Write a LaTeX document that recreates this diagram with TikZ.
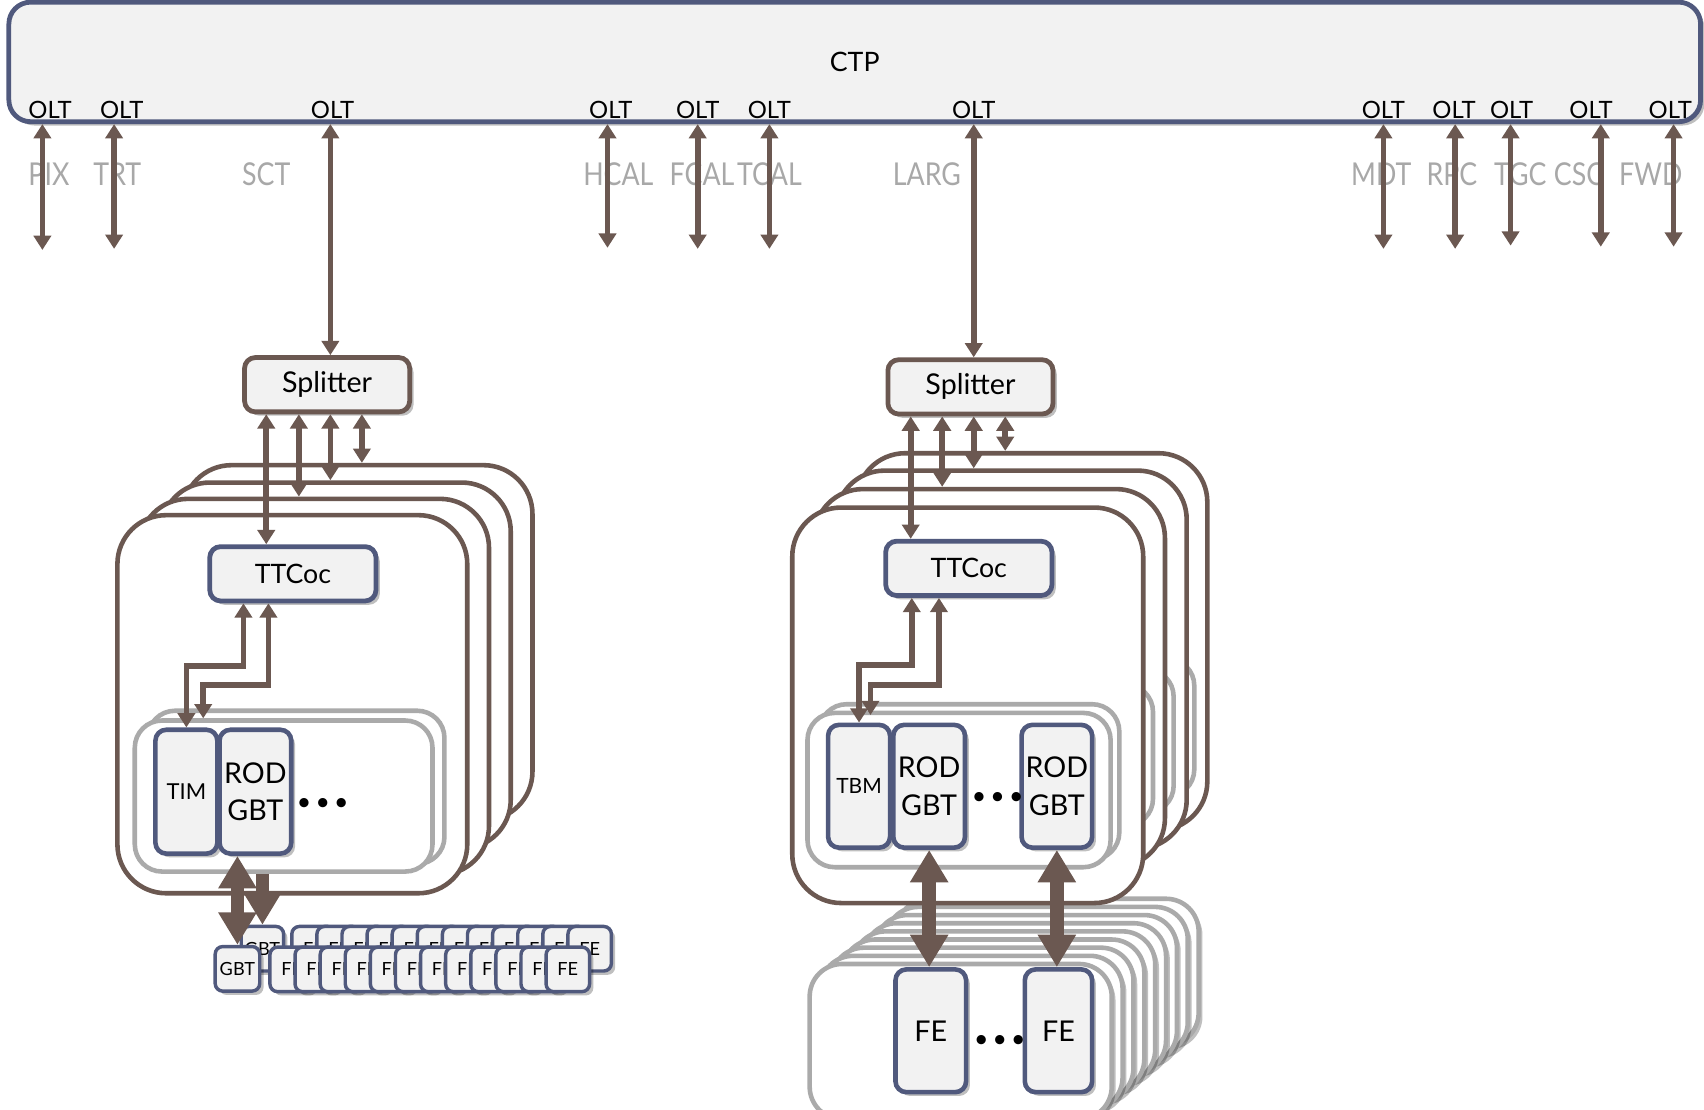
\documentclass[tikz,border=0pt]{standalone}
\usepackage{fontspec}
\setmainfont{Lato}
\newfontfamily\detfont[FakeStretch=0.85]{Lato}
\usepackage{tikz}
\usetikzlibrary{arrows.meta,shadows}
\definecolor{linkbrown}{RGB}{107,88,81}
\definecolor{boxblue}{RGB}{80,89,125}
\definecolor{boxfill}{RGB}{242,242,242}
\definecolor{boardgray}{RGB}{170,170,170}
\definecolor{detgray}{RGB}{168,168,168}

\tikzset{
  softshadow/.style={drop shadow={shadow xshift=2pt,shadow yshift=-2pt,opacity=0.25,fill=black}},
  ctpbox/.style={draw=boxblue,fill=boxfill,line width=2.5pt,rounded corners=0.4cm,
    minimum width=31.14cm,minimum height=2.2cm,inner sep=0pt,softshadow,font=\fontsize{14}{16}\selectfont},
  splitbox/.style={draw=linkbrown,fill=boxfill,line width=2.5pt,rounded corners=0.2cm,
    minimum width=3.04cm,minimum height=1cm,inner sep=0pt,softshadow,font=\fontsize{15}{17}\selectfont},
  ttcbox/.style={splitbox,draw=boxblue,minimum width=3.06cm,font=\fontsize{14}{16}\selectfont},
  modbox/.style={draw=boxblue,fill=boxfill,line width=2.4pt,rounded corners=0.2cm,
    minimum height=2.28cm,inner sep=0pt,softshadow,align=center,font=\fontsize{15}{19.8}\selectfont},
  minibox/.style={draw=boxblue,fill=boxfill,line width=1.8pt,rounded corners=0.14cm,
    minimum width=0.8cm,minimum height=0.82cm,inner sep=0pt,softshadow,font=\fontsize{9.5}{10}\selectfont},
  crate/.style={draw=linkbrown,fill=white,line width=2.4pt,rounded corners=0.9cm,inner sep=0pt,minimum width=6.44cm},
  board/.style={draw=boardgray,fill=white,line width=2.4pt,rounded corners=0.5cm,inner sep=0pt},
  feboard/.style={board,rounded corners=0.6cm,minimum width=5.56cm,softshadow},
  oltlabel/.style={font=\fontsize{12.5}{14}\selectfont,inner sep=0pt},
  detlabel/.style={text=detgray,font=\detfont\fontsize{16.5}{18}\selectfont,inner sep=0pt},
  dots/.style={font=\fontsize{13}{14}\selectfont,inner sep=0pt},
  dlink/.style={draw=linkbrown,line width=3pt,{Triangle[width=9pt,length=7.5pt]}-{Triangle[width=9pt,length=7.5pt]}},
  bus/.style={draw=linkbrown,line width=7pt,{Triangle[width=19pt,length=17pt]}-{Triangle[width=19pt,length=17pt]}},
  busdown/.style={draw=linkbrown,line width=7pt,-{Triangle[width=19pt,length=17pt]}}
}

\begin{document}
\begin{tikzpicture}[x=0.02cm,y=-0.02cm]
\useasboundingbox (0,0) rectangle (1568,1021);

% central trigger processor and its OLTs
\node[ctpbox] (ctp) at (786.5,57) {CTP};
\node[oltlabel] (oltPIX) at (46,101) {OLT};
\node[oltlabel] (oltTRT) at (112,101) {OLT};
\node[oltlabel] (oltSCT) at (306,101) {OLT};
\node[oltlabel] (oltHCAL) at (562,101) {OLT};
\node[oltlabel] (oltFCAL) at (642,101) {OLT};
\node[oltlabel] (oltTCAL) at (708,101) {OLT};
\node[oltlabel] (oltLARG) at (896,101) {OLT};
\node[oltlabel] (oltMDT) at (1273,101) {OLT};
\node[oltlabel] (oltRPC) at (1338,101) {OLT};
\node[oltlabel] (oltTGC) at (1391,101) {OLT};
\node[oltlabel] (oltCSC) at (1464,101) {OLT};
\node[oltlabel] (oltFWD) at (1537,101) {OLT};

% detector names
\node[detlabel] (pix) at (45,160) {PIX};
\node[detlabel] (trt) at (108,160) {TRT};
\node[detlabel] (sct) at (245,160) {SCT};
\node[detlabel] (hcal) at (569,160) {HCAL};
\node[detlabel] (fcal) at (646,160) {FCAL};
\node[detlabel] (tcal) at (708,160) {TCAL};
\node[detlabel] (larg) at (853,160) {LARG};
\node[detlabel] (mdt) at (1271,160) {MDT};
\node[detlabel] (rpc) at (1336,160) {RPC};
\node[detlabel] (tgc) at (1399,160) {TGC};
\node[detlabel] (csc) at (1453,160) {CSC};
\node[detlabel] (fwd) at (1519,160) {FWD};

% links from the OLTs
\coordinate (pixend) at (39,230);
\coordinate (trtend) at (105,229);
\coordinate (hcalend) at (559,228);
\coordinate (fcalend) at (642,229);
\coordinate (tcalend) at (708,229);
\coordinate (mdtend) at (1273,229);
\coordinate (rpcend) at (1339,229);
\coordinate (tgcend) at (1390,226);
\coordinate (cscend) at (1473,227);
\coordinate (fwdend) at (1540,227);
\draw[dlink] (ctp.south -| pixend) -- (pixend);
\draw[dlink] (ctp.south -| trtend) -- (trtend);
\draw[dlink] (ctp.south -| hcalend) -- (hcalend);
\draw[dlink] (ctp.south -| fcalend) -- (fcalend);
\draw[dlink] (ctp.south -| tcalend) -- (tcalend);
\draw[dlink] (ctp.south -| mdtend) -- (mdtend);
\draw[dlink] (ctp.south -| rpcend) -- (rpcend);
\draw[dlink] (ctp.south -| tgcend) -- (tgcend);
\draw[dlink] (ctp.south -| cscend) -- (cscend);
\draw[dlink] (ctp.south -| fwdend) -- (fwdend);

% splitters
\node[splitbox] (splitL) at (301,354) {Splitter};
\node[splitbox] (splitR) at (893,356) {Splitter};
\coordinate (sl1) at (245,0);
\coordinate (sl2) at (275,0);
\coordinate (sl3) at (304,0);
\coordinate (sl4) at (333,0);
\coordinate (sr1) at (838,0);
\coordinate (sr2) at (867,0);
\coordinate (sr3) at (896,0);
\coordinate (sr4) at (925,0);
\draw[dlink] (ctp.south -| sl3) -- (splitL.north -| sl3);
\draw[dlink] (ctp.south -| sr3) -- (splitR.north -| sr3);

% front-end boards (right)
\node[feboard,minimum height=2.7cm] (febd8) at (964,894.5) {};
\node[feboard,minimum height=2.72cm] (febd7) at (954,902.5) {};
\node[feboard,minimum height=2.74cm] (febd6) at (944,910.5) {};
\node[feboard,minimum height=2.76cm] (febd5) at (934,918.5) {};
\node[feboard,minimum height=2.78cm] (febd4) at (924,926.5) {};
\node[feboard,minimum height=2.8cm] (febd3) at (914,934.5) {};
\node[feboard,minimum height=2.82cm] (febd2) at (904,942.5) {};
\node[feboard,minimum height=2.84cm] (febd1) at (894,950.5) {};
\node[feboard,minimum height=2.86cm] (febd0) at (884,958.5) {};
\node[modbox,minimum width=1.3cm,minimum height=2.26cm] (feR1) at (856.5,948.5) {FE};
\node[modbox,minimum width=1.24cm,minimum height=2.26cm] (feR2) at (974,948.5) {FE};
\node[dots] (dotsFE) at (920,958) {•\hspace{2.2pt}•\hspace{2.2pt}•};

% GBT and FE chips (left), back row then front row
\node[minibox,minimum width=0.78cm] (gbtLb) at (241.5,873) {GBT};
\node[minibox] (feLb1) at (288.5,873) {FE};
\node[minibox] (feLb2) at (311.6,873) {FE};
\node[minibox] (feLb3) at (334.7,873) {FE};
\node[minibox] (feLb4) at (357.8,873) {FE};
\node[minibox] (feLb5) at (380.9,873) {FE};
\node[minibox] (feLb6) at (404,873) {FE};
\node[minibox] (feLb7) at (427.1,873) {FE};
\node[minibox] (feLb8) at (450.2,873) {FE};
\node[minibox] (feLb9) at (473.3,873) {FE};
\node[minibox] (feLb10) at (496.4,873) {FE};
\node[minibox] (feLb11) at (519.5,873) {FE};
\node[minibox] (feLb12) at (542.6,873) {FE};
\node[minibox,minimum width=0.82cm] (gbtL) at (218.5,891.5) {GBT};
\node[minibox] (feL1) at (268.4,892) {FE};
\node[minibox] (feL2) at (291.5,892) {FE};
\node[minibox] (feL3) at (314.6,892) {FE};
\node[minibox] (feL4) at (337.7,892) {FE};
\node[minibox] (feL5) at (360.8,892) {FE};
\node[minibox] (feL6) at (383.9,892) {FE};
\node[minibox] (feL7) at (407,892) {FE};
\node[minibox] (feL8) at (430.1,892) {FE};
\node[minibox] (feL9) at (453.2,892) {FE};
\node[minibox] (feL10) at (476.3,892) {FE};
\node[minibox] (feL11) at (499.4,892) {FE};
\node[minibox] (feL12) at (522.5,892) {FE};

% crates (left)
\node[crate,minimum height=6.54cm] (crateL3) at (329,591.5) {};
\node[crate,minimum height=6.74cm] (crateL2) at (309,612.5) {};
\node[crate,minimum height=6.92cm] (crateL1) at (289,632) {};
\node[crate,minimum height=6.96cm] (crateL0) at (269,648) {};
\node[board,minimum width=5.46cm,minimum height=2.82cm] (boardLb) at (272.5,724.5) {};
\node[board,minimum width=5.48cm,minimum height=2.78cm] (boardLf) at (261,732.5) {};
\node[modbox,minimum width=1.14cm,font=\fontsize{11.5}{13}\selectfont] (timL) at (171.5,728.5) {TIM};
\node[modbox,minimum width=1.32cm] (rodL) at (235,728.5) {ROD\\GBT};
\node[dots] (dotsL) at (297,740) {•\hspace{2.2pt}•\hspace{2.2pt}•};
\node[ttcbox] (ttcL) at (269.5,528) {TTCoc};

% crates (right)
\node[crate,minimum width=6.46cm,minimum height=6.94cm] (crateR3) at (949.5,590.5) {};
\node[board,minimum width=5.58cm,minimum height=2.54cm] (boardR3) at (959.5,669.5) {};
\node[crate,minimum width=6.46cm,minimum height=6.96cm] (crateR2) at (930.5,607) {};
\node[board,minimum width=5.58cm,minimum height=2.64cm] (boardR2) at (940.5,682) {};
\node[crate,minimum width=6.46cm,minimum height=6.96cm] (crateR1) at (910.5,624) {};
\node[board,minimum width=5.58cm,minimum height=2.6cm] (boardR1) at (921.5,695) {};
\node[crate,minimum width=6.46cm,minimum height=7.28cm] (crateR0) at (890.5,649) {};
\node[board,minimum width=5.52cm,minimum height=2.86cm] (boardRb) at (892,719.5) {};
\node[board,minimum width=5.58cm,minimum height=2.84cm] (boardRf) at (882.5,727) {};
\node[modbox,minimum width=1.14cm,minimum height=2.26cm,font=\fontsize{11}{12}\selectfont] (tbmR) at (790.5,723.5) {TBM};
\node[modbox,minimum width=1.32cm,minimum height=2.26cm] (rodR1) at (855,723.5) {ROD\\GBT};
\node[modbox,minimum width=1.3cm,minimum height=2.26cm] (rodR2) at (972.5,723.5) {ROD\\GBT};
\node[dots] (dotsR) at (918,735) {•\hspace{2.2pt}•\hspace{2.2pt}•};
\node[ttcbox] (ttcR) at (891.5,523) {TTCoc};

% splitter fan-out
\draw[dlink] (splitL.south -| sl1) -- (ttcL.north -| sl1);
\draw[dlink] (splitL.south -| sl2) -- (crateL1.north -| sl2);
\draw[dlink] (splitL.south -| sl3) -- (crateL2.north -| sl3);
\draw[dlink] (splitL.south -| sl4) -- (crateL3.north -| sl4);
\draw[dlink] (splitR.south -| sr1) -- (ttcR.north -| sr1);
\draw[dlink] (splitR.south -| sr2) -- (crateR1.north -| sr2);
\draw[dlink] (splitR.south -| sr3) -- (crateR2.north -| sr3);
\draw[dlink] (splitR.south -| sr4) -- (crateR3.north -| sr4);

% TTCoc to TIM / TBM
\coordinate (tl1) at (224,613);
\coordinate (tl2) at (247,630);
\coordinate (timLb) at (187,661);
\draw[dlink] (ttcL.south -| tl1) -- (tl1) -| (timL.north);
\draw[dlink] (ttcL.south -| tl2) -- (tl2) -| (timLb);
\coordinate (tr1) at (839,612);
\coordinate (tr2) at (864,630);
\coordinate (tbmRb) at (801,658);
\draw[dlink] (ttcR.south -| tr1) -- (tr1) -| (tbmR.north);
\draw[dlink] (ttcR.south -| tr2) -- (tr2) -| (tbmRb);

% GBT links
\draw[bus] (rodL.south -| gbtL) -- (gbtL.north);
\draw[busdown] (boardLf.south -| gbtLb) -- (gbtLb.north);
\draw[bus] (rodR1.south) -- (rodR1.south |- feR1.north);
\draw[bus] (rodR2.south) -- (rodR2.south |- feR2.north);
\end{tikzpicture}
\end{document}
